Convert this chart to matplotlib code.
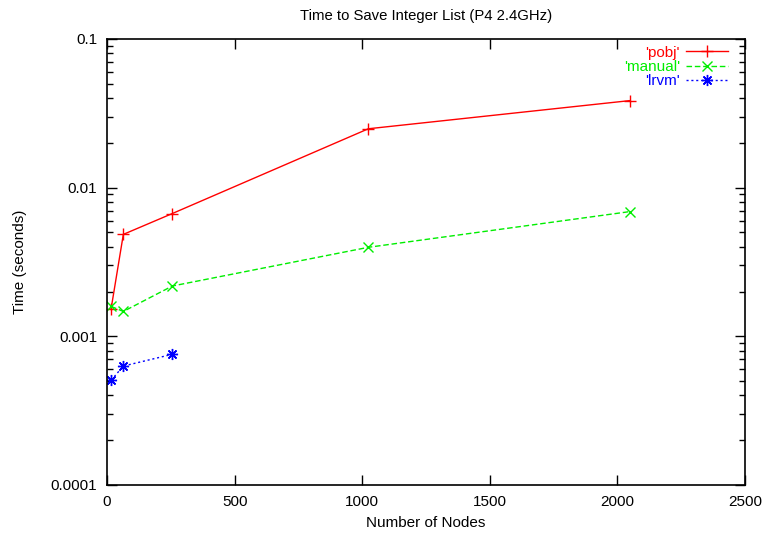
import matplotlib
matplotlib.use("Agg")
import matplotlib.pyplot as plt
from matplotlib.ticker import LogLocator, FixedFormatter, FixedLocator, NullFormatter

plt.rcParams['font.family'] = ['Liberation Sans', 'DejaVu Sans']
plt.rcParams['font.size'] = 11

# 数据
nodes = [16, 64, 256, 1024, 2048]
pobj = [0.00153, 0.00485, 0.0067, 0.0249, 0.0385]
manual = [0.00159, 0.00147, 0.00218, 0.00397, 0.0069]
lrvm_nodes = [16, 64, 256]
lrvm = [0.000506, 0.000631, 0.000757]

y_ticks = [0.0001, 0.001, 0.01, 0.1]
y_labels = ['0.0001', '0.001', '0.01', '0.1']

fig = plt.figure(figsize=(7.66, 5.34), dpi=100)
ax = fig.add_axes([107 / 766, 49 / 534, 638 / 766, 446 / 534])

ax.plot(nodes, pobj, color='#ff0000', lw=1, marker='+', ms=8, mew=1, label="'pobj'")
ax.plot(nodes, manual, color='#00ee00', lw=1, ls=(0, (4, 2)), marker='x', ms=7, mew=1, label="'manual'")
ax.plot(lrvm_nodes, lrvm, color='#0000ff', lw=1, ls=(0, (1.5, 2)), marker=(8, 2, 0), ms=8, mew=1, label="'lrvm'")

ax.set_xlim(0, 2500)
ax.set_yscale('log')
ax.set_ylim(0.0001, 0.1)
ax.yaxis.set_major_locator(FixedLocator(y_ticks))
ax.yaxis.set_major_formatter(FixedFormatter(y_labels))
ax.yaxis.set_minor_locator(LogLocator(base=10, subs=range(2, 10)))
ax.yaxis.set_minor_formatter(NullFormatter())

ax.tick_params(which='both', direction='in', top=True, right=True, width=1)
ax.tick_params(which='major', length=7, pad=7)
ax.tick_params(which='minor', length=4)
for s in ax.spines.values():
    s.set_linewidth(1.2)

ax.set_title("Time to Save Integer List (P4 2.4GHz)", fontsize=10.7, pad=14)
ax.set_xlabel("Number of Nodes", labelpad=5)
ax.set_ylabel("Time (seconds)")
ax.yaxis.set_label_coords(-0.126, 0.5)

leg = ax.legend(loc='upper right', frameon=False, markerfirst=False, handlelength=2.75,
                labelcolor='linecolor', fontsize=11, borderaxespad=0, borderpad=0,
                labelspacing=0.03, handletextpad=0.4,
                bbox_to_anchor=(728 / 766, 1 - 45.5 / 534), bbox_transform=fig.transFigure)

fig.savefig("out.png", dpi=100)
